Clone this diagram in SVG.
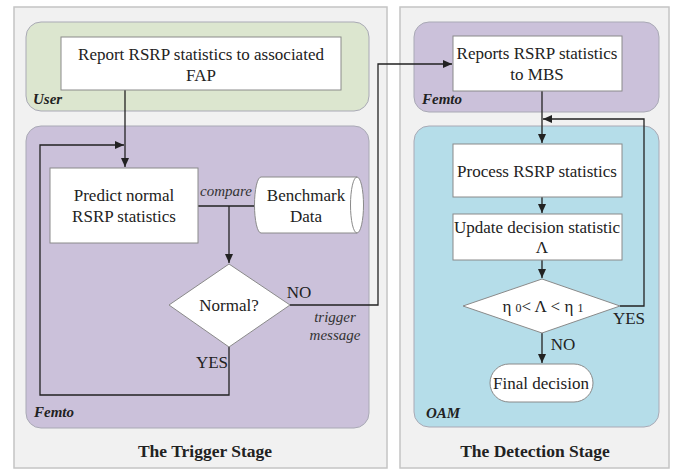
<svg xmlns="http://www.w3.org/2000/svg" width="682" height="470" viewBox="0 0 682 470">
<style>
.panel{fill:#f1f1f1;stroke:#c4c4c4;stroke-width:1.5}
.lane{stroke:#a9a9b5;stroke-width:1}
.green{fill:#dce6cf}
.purple{fill:#cbc1da}
.blue{fill:#b5dde9}
.box{fill:#fff;stroke:#8a8a8a;stroke-width:1}
.t{font-family:"Liberation Serif","Times New Roman",serif;font-size:17px;fill:#222;text-anchor:middle}
.it{font-family:"Liberation Serif","Times New Roman",serif;font-size:15px;font-style:italic;fill:#333;text-anchor:middle}
.lab{font-family:"Liberation Serif","Times New Roman",serif;font-size:15px;font-style:italic;font-weight:bold;fill:#222}
.title{font-family:"Liberation Serif","Times New Roman",serif;font-size:17.5px;font-weight:bold;fill:#222;text-anchor:middle}
.c{fill:none;stroke:#222;stroke-width:1.3}
</style>
<defs>
<marker id="ah" markerWidth="10" markerHeight="10" refX="9" refY="5" orient="auto" markerUnits="userSpaceOnUse">
<path d="M0,1 L9,5 L0,9 z" fill="#222"/>
</marker>
</defs>
<g id="trigger-stage">
<rect class="panel" x="14" y="7" width="373" height="461"/>
<text class="title" x="205" y="457">The Trigger Stage</text>
</g>
<g id="detection-stage">
<rect class="panel" x="400" y="7" width="269" height="461"/>
<text class="title" x="535" y="457">The Detection Stage</text>
</g>
<g id="lane-user">
<rect class="lane green" x="26" y="22" width="343" height="89" rx="15"/>
<text class="lab" x="33" y="104">User</text>
</g>
<g id="lane-femto-trigger">
<rect class="lane purple" x="26" y="126" width="343" height="302" rx="15"/>
<text class="lab" x="34" y="417">Femto</text>
</g>
<g id="lane-femto-detect">
<rect class="lane purple" x="414" y="22" width="245" height="90" rx="15"/>
<text class="lab" x="422" y="104">Femto</text>
</g>
<g id="lane-oam">
<rect class="lane blue" x="414" y="126" width="245" height="301" rx="15"/>
<text class="lab" x="426" y="418">OAM</text>
</g>
<g id="connectors">
<path class="c" d="M125,90 V167" marker-end="url(#ah)"/>
<path class="c" d="M229,347 V395 H40 V145 H124" marker-end="url(#ah)"/>
<path class="c" d="M198,206 H256"/>
<path class="c" d="M229,206 V263" marker-end="url(#ah)"/>
<path class="c" d="M290,305 H378 V64 H452" marker-end="url(#ah)"/>
<path class="c" d="M542,91 V143" marker-end="url(#ah)"/>
<path class="c" d="M620,306 H644 V119 H543" marker-end="url(#ah)"/>
<path class="c" d="M542,197 V213" marker-end="url(#ah)"/>
<path class="c" d="M542,260 V278" marker-end="url(#ah)"/>
<path class="c" d="M542,333 V363" marker-end="url(#ah)"/>
<text class="it" x="226" y="196">compare</text>
<text class="t" x="299" y="298">NO</text>
<text class="it" x="335" y="322">trigger</text>
<text class="it" x="335" y="340">message</text>
<text class="t" x="212" y="368">YES</text>
<text class="t" x="629" y="324">YES</text>
<text class="t" x="563" y="350">NO</text>
</g>
<g id="report-fap">
<rect class="box" x="61" y="37" width="280" height="53"/>
<text class="t" x="201" y="60">Report RSRP statistics to associated</text>
<text class="t" x="201" y="81">FAP</text>
</g>
<g id="predict">
<rect class="box" x="50" y="168" width="148" height="75"/>
<text class="t" x="124" y="201">Predict normal</text>
<text class="t" x="124" y="222">RSRP statistics</text>
</g>
<g id="benchmark">
<path class="box" d="M261,177 H357 A6.5,28 0 0 1 357,233 H261 A6.5,28 0 0 1 261,177 z"/>
<path fill="none" stroke="#8a8a8a" d="M357,177 A6.5,28 0 0 0 357,233"/>
<text class="t" x="306" y="201">Benchmark</text>
<text class="t" x="306" y="222">Data</text>
</g>
<g id="normal">
<path class="box" d="M229,264 L290,305 L229,347 L169,305 z"/>
<text class="t" x="229" y="311">Normal?</text>
</g>
<g id="reports-mbs">
<rect class="box" x="453" y="36" width="169" height="55"/>
<text class="t" x="537" y="59">Reports RSRP statistics</text>
<text class="t" x="537" y="80">to MBS</text>
</g>
<g id="process">
<rect class="box" x="453" y="144" width="169" height="53"/>
<text class="t" x="537" y="177">Process RSRP statistics</text>
</g>
<g id="update">
<rect class="box" x="453" y="214" width="169" height="46"/>
<text class="t" x="537" y="233">Update decision statistic</text>
<text class="t" x="542" y="253">Λ</text>
</g>
<g id="threshold">
<path class="box" d="M542,279 L620,306 L542,333 L463,306 z"/>
<text class="t" x="543" y="312">η <tspan font-size="12">0</tspan>&lt; Λ &lt; η <tspan font-size="12">1</tspan></text>
</g>
<g id="final">
<rect class="box" x="490" y="364" width="103" height="38" rx="19"/>
<text class="t" x="541" y="389">Final decision</text>
</g>
</svg>
